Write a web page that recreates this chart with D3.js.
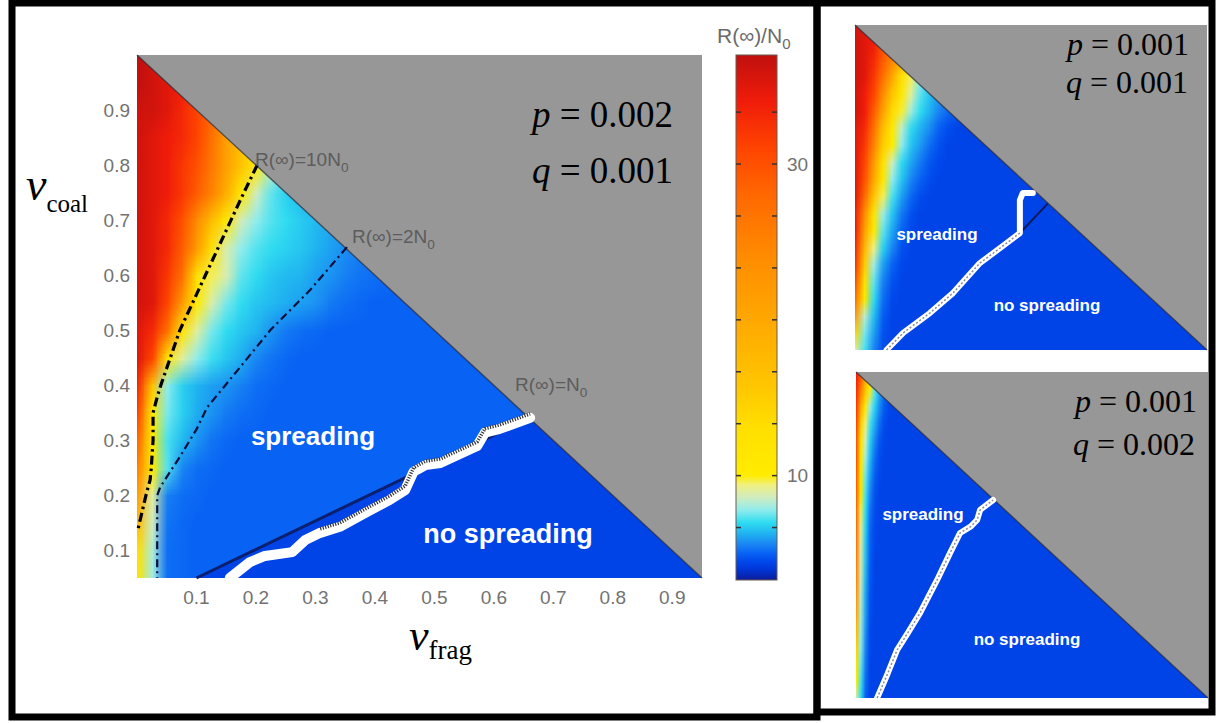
<!DOCTYPE html>
<html>
<head>
<meta charset="utf-8">
<script src="https://cdn.jsdelivr.net/npm/d3@7"></script>
<style>
body { margin: 0; background: #fff; }
svg { display: block; }
</style>
</head>
<body>
<svg id="chart" width="1222" height="723"></svg>
<script>
// axis ticks
const xTicks = [0.1, 0.2, 0.3, 0.4, 0.5, 0.6, 0.7, 0.8, 0.9];
const yTicks = [0.1, 0.2, 0.3, 0.4, 0.5, 0.6, 0.7, 0.8, 0.9];

// colour map R(inf)/N0 -> colour
const cmapValues = [3.3, 4.0, 4.5, 5.0, 5.6, 6.3, 7.0, 7.8, 8.6, 9.4, 10, 13, 16, 20, 24, 28, 31, 34, 37];
const cmapColors = ["#0c1c9c", "#0036d8", "#0048ec", "#0862f4", "#1a86f4", "#20b4f0", "#30dcf0", "#90ecec",
    "#cfecc0", "#f0f080", "#ffec00", "#ffe000", "#ffc400", "#ffa800", "#ff8c00", "#ff6800", "#ff4400", "#f01c0a", "#c0100e"];
const cbTicks = [6.667, 10, 13.333, 16.667, 20, 23.333, 26.667, 30, 33.333];
const cbLabels = [10, 30];

// rows of the value grids, top (y = 1) to bottom (y = 0.05)
const gridY = [1.0, 0.95, 0.9, 0.85, 0.8, 0.75, 0.7, 0.65, 0.6, 0.55, 0.5, 0.45, 0.4, 0.35, 0.3, 0.25, 0.2, 0.15, 0.1, 0.05];

// main panel, p = 0.002, q = 0.001
const mainGridX = [0, 0.025, 0.05, 0.075, 0.1, 0.125, 0.15, 0.175, 0.2, 0.225, 0.25, 0.275, 0.3, 0.325, 0.35, 0.375, 0.4, 0.425, 0.45];
const mainGrid = [
    [37, 36, 35, 34, 33, 31, 29, 26, 22, 18, 14, 11, 9, 8, 7, 6.5, 6, 5.8, 5.5],
    [37, 36, 35, 34, 32, 30, 27, 24, 20, 16, 12, 10, 8.5, 7.5, 7, 6.5, 6, 5.8, 5.5],
    [36, 36, 35, 33, 31, 28, 25, 21, 17, 13, 10.5, 9, 8, 7.2, 6.6, 6.2, 5.9, 5.6, 5.4],
    [36, 35, 34, 33, 31, 27, 21, 17, 13, 10, 9, 8, 7.5, 7, 6.5, 6.1, 5.8, 5.5, 5.3],
    [36, 35, 34, 32, 30, 26, 21, 16, 10.5, 8.5, 7.5, 7, 6.6, 6.3, 6, 5.8, 5.6, 5.4, 5.2],
    [36, 35, 34, 32, 29, 25, 19, 11, 8.6, 7.4, 6.8, 6.4, 6.1, 5.9, 5.7, 5.5, 5.4, 5.3, 5.2],
    [36, 35, 33, 30, 24, 17, 11, 8.6, 7.8, 7.3, 7, 6.7, 6.4, 6.2, 6, 5.8, 5.6, 5.4, 5.3],
    [36, 35, 33, 29, 22, 13, 8.8, 7.8, 7.3, 7, 6.8, 6.6, 6.3, 6, 5.7, 5.5, 5.3, 5.2, 5.1],
    [36, 35, 32, 27, 13, 9.6, 8.8, 7.4, 7, 6.6, 6.4, 6.3, 6, 5.8, 5.5, 5.3, 5.2, 5.1, 5.0],
    [36, 35, 31, 22, 10.5, 8.8, 7.6, 7, 6.6, 6.4, 6.2, 6, 5.8, 5.4, 5.2, 5.1, 5.0, 5.0, 5.0],
    [35, 33, 27, 12, 9, 7.6, 7, 6.6, 6.3, 5.8, 5.4, 5.2, 5.1, 5.0, 5.0, 5.0, 5.0, 5.0, 5.0],
    [35, 31, 12, 9, 7.8, 7.1, 6.6, 6.2, 5.6, 5.3, 5.1, 5.0, 5.0, 5.0, 5.0, 5.0, 5.0, 5.0, 5.0],
    [33, 16, 7.8, 6.8, 6.3, 6.0, 5.8, 5.5, 5.2, 5.1, 5.0, 5.0, 5.0, 5.0, 5.0, 5.0, 5.0, 5.0, 5.0],
    [31, 10.5, 7.6, 6.8, 6.2, 5.8, 5.4, 5.2, 5.1, 5.0, 5.0, 5.0, 5.0, 5.0, 5.0, 5.0, 5.0, 5.0, 5.0],
    [28, 10.8, 7.2, 6.4, 5.8, 5.3, 5.1, 5.0, 5.0, 5.0, 5.0, 5.0, 5.0, 5.0, 5.0, 5.0, 5.0, 5.0, 5.0],
    [25, 10.4, 7.3, 5.6, 5.2, 5.1, 5.0, 5.0, 5.0, 5.0, 5.0, 5.0, 5.0, 5.0, 5.0, 5.0, 5.0, 5.0, 5.0],
    [21, 9, 5.5, 5.2, 5.1, 5.0, 5.0, 5.0, 5.0, 5.0, 5.0, 5.0, 5.0, 5.0, 5.0, 5.0, 5.0, 5.0, 5.0],
    [17, 8.6, 5.3, 5.1, 5.0, 5.0, 5.0, 5.0, 5.0, 5.0, 5.0, 5.0, 5.0, 5.0, 5.0, 5.0, 5.0, 5.0, 5.0],
    [13, 8.2, 5.2, 5.1, 5.0, 5.0, 5.0, 5.0, 5.0, 5.0, 5.0, 5.0, 5.0, 5.0, 5.0, 5.0, 5.0, 5.0, 5.0],
    [12, 8, 5.2, 5.1, 5.0, 5.0, 5.0, 5.0, 5.0, 5.0, 5.0, 5.0, 5.0, 5.0, 5.0, 5.0, 5.0, 5.0, 5.0]
];
const mainSpreadValue = 5.0;
const mainNoSpreadValue = 4.4;
const contour10 = [[0.202, 0.80], [0.174, 0.737], [0.158, 0.70], [0.137, 0.651], [0.115, 0.60], [0.094, 0.551],
    [0.072, 0.50], [0.056, 0.45], [0.040, 0.40], [0.034, 0.379], [0.027, 0.35], [0.027, 0.30], [0.024, 0.25],
    [0.022, 0.228], [0.015, 0.20], [0.002, 0.14]];
const contour2 = [[0.353, 0.651], [0.291, 0.573], [0.224, 0.50], [0.156, 0.41], [0.118, 0.36], [0.10, 0.32],
    [0.072, 0.27], [0.039, 0.215], [0.034, 0.20], [0.034, 0.05]];
const contour1 = [[0.156, 0.05], [0.19, 0.079], [0.215, 0.09], [0.261, 0.097], [0.283, 0.119], [0.308, 0.132],
    [0.341, 0.143], [0.387, 0.170], [0.425, 0.192], [0.451, 0.210], [0.465, 0.243], [0.485, 0.255], [0.51, 0.259],
    [0.572, 0.290], [0.585, 0.314], [0.61, 0.321], [0.661, 0.341]];
const spreadEdge = [[0.10, 0.05], [0.661, 0.341]];

// top right panel, p = 0.001, q = 0.001
const topGridX = [0, 0.025, 0.05, 0.075, 0.1, 0.125, 0.15, 0.175, 0.2, 0.225, 0.25, 0.275, 0.3];
const topGrid = [
    [36, 35, 34, 31, 28, 23, 18, 13, 10, 8.4, 7.2, 6.4, 6],
    [36, 35, 34, 30, 27, 22, 17, 12, 9.5, 8, 7, 6.3, 5.8],
    [36, 35, 33, 29, 25, 19, 13, 9.8, 8.2, 7.2, 6.4, 5.8, 5.5],
    [36, 35, 32, 27, 20, 13, 9.6, 7.8, 6.8, 6.2, 5.6, 5.2, 5],
    [36, 34, 31, 24, 16, 11, 9, 7.4, 6.6, 5.9, 5.3, 5, 4.8],
    [36, 34, 29, 21, 13.5, 9.8, 8, 7, 6.3, 5.6, 5.1, 4.8, 4.6],
    [35, 33, 27, 17, 11, 8.4, 7, 6.3, 5.7, 5, 4.6, 4.4, 4.4],
    [35, 32, 25, 15, 10, 7.8, 6.6, 5.9, 5.2, 4.7, 4.4, 4.4, 4.4],
    [35, 31, 22, 12.5, 8.6, 7, 6.1, 5.4, 4.8, 4.5, 4.4, 4.4, 4.4],
    [35, 30, 20, 11, 7.8, 6.6, 5.6, 5, 4.6, 4.4, 4.4, 4.4, 4.4],
    [35, 28, 16, 9.6, 7.2, 6, 5.1, 4.6, 4.4, 4.4, 4.4, 4.4, 4.4],
    [34, 24, 12, 8, 6.6, 5.4, 4.7, 4.4, 4.4, 4.4, 4.4, 4.4, 4.4],
    [34, 21, 10.5, 7.4, 6.1, 5, 4.5, 4.4, 4.4, 4.4, 4.4, 4.4, 4.4],
    [33, 18, 9.4, 6.8, 5.6, 4.7, 4.4, 4.4, 4.4, 4.4, 4.4, 4.4, 4.4],
    [32, 15, 8, 6, 5, 4.5, 4.4, 4.4, 4.4, 4.4, 4.4, 4.4, 4.4],
    [30, 12.5, 7.4, 5.5, 4.7, 4.4, 4.4, 4.4, 4.4, 4.4, 4.4, 4.4, 4.4],
    [27, 10.5, 7, 5.2, 4.5, 4.4, 4.4, 4.4, 4.4, 4.4, 4.4, 4.4, 4.4],
    [22, 8.4, 6.5, 4.9, 4.4, 4.4, 4.4, 4.4, 4.4, 4.4, 4.4, 4.4, 4.4],
    [14, 7.6, 6, 4.7, 4.4, 4.4, 4.4, 4.4, 4.4, 4.4, 4.4, 4.4, 4.4],
    [9, 7.2, 5.6, 4.6, 4.4, 4.4, 4.4, 4.4, 4.4, 4.4, 4.4, 4.4, 4.4]
];
const topBaseValue = 4.4;
const topBoundary = [[0.085, 0.05], [0.13, 0.10], [0.202, 0.158], [0.265, 0.217], [0.337, 0.304], [0.41, 0.363],
    [0.445, 0.392], [0.445, 0.488], [0.453, 0.509], [0.48, 0.509]];
const topEdge = [[0.445, 0.392], [0.52, 0.478]];

// bottom right panel, p = 0.001, q = 0.002
const botGridX = [0, 0.0125, 0.025, 0.0375, 0.05, 0.0625, 0.075, 0.0875, 0.1];
const botGrid = [
    [34, 30, 20, 12, 8, 6.5, 5.5, 4.8, 4.4],
    [33, 26, 16, 10, 7.4, 6.2, 5.2, 4.6, 4.4],
    [32, 20, 11, 8, 6.8, 5.7, 4.9, 4.5, 4.4],
    [31, 15, 9.5, 7.2, 6.2, 5.2, 4.6, 4.4, 4.4],
    [30, 12, 8.6, 6.8, 5.6, 4.8, 4.5, 4.4, 4.4],
    [30, 11, 8, 6.4, 5.2, 4.6, 4.4, 4.4, 4.4],
    [29, 10.5, 7.5, 6, 4.9, 4.5, 4.4, 4.4, 4.4],
    [29, 10, 7.2, 5.6, 4.7, 4.4, 4.4, 4.4, 4.4],
    [28, 9.6, 7, 5.3, 4.6, 4.4, 4.4, 4.4, 4.4],
    [28, 9.2, 6.8, 5.1, 4.5, 4.4, 4.4, 4.4, 4.4],
    [27, 9, 6.6, 5, 4.5, 4.4, 4.4, 4.4, 4.4],
    [26, 8.8, 6.5, 4.9, 4.4, 4.4, 4.4, 4.4, 4.4],
    [25, 8.6, 6.3, 4.8, 4.4, 4.4, 4.4, 4.4, 4.4],
    [23, 8.4, 6.1, 4.7, 4.4, 4.4, 4.4, 4.4, 4.4],
    [21, 8.2, 6, 4.6, 4.4, 4.4, 4.4, 4.4, 4.4],
    [18, 8, 5.8, 4.5, 4.4, 4.4, 4.4, 4.4, 4.4],
    [15, 7.8, 5.6, 4.5, 4.4, 4.4, 4.4, 4.4, 4.4],
    [12, 7.5, 5.4, 4.4, 4.4, 4.4, 4.4, 4.4, 4.4],
    [10, 7.2, 5.2, 4.4, 4.4, 4.4, 4.4, 4.4, 4.4],
    [8.5, 7, 5, 4.4, 4.4, 4.4, 4.4, 4.4, 4.4]
];
const botBaseValue = 4.4;
const botBoundary = [[0.057, 0.05], [0.085, 0.12], [0.111, 0.19], [0.14, 0.24], [0.173, 0.298], [0.219, 0.394],
    [0.254, 0.473], [0.281, 0.531], [0.31, 0.55], [0.327, 0.569], [0.335, 0.598], [0.37, 0.627]];

const svg = d3.select("#chart");
const defs = svg.append("defs");

const color = d3.scaleLinear()
    .domain(cmapValues)
    .range(cmapColors)
    .interpolate(d3.interpolateRgb)
    .clamp(true);

const sans = "Liberation Sans, Arial, Helvetica, sans-serif";
const serif = "Liberation Serif, Times New Roman, serif";

// value grid -> small image, the browser smooths it when it is scaled up
function drawHeat(g, x, y, gx, grid, clipId) {
    const canvas = document.createElement("canvas");
    canvas.width = gx.length;
    canvas.height = gridY.length;
    const ctx = canvas.getContext("2d");
    grid.forEach((row, j) => row.forEach((v, i) => {
        ctx.fillStyle = color(v);
        ctx.fillRect(i, j, 1, 1);
    }));
    const dx = gx[1] - gx[0];
    const dy = gridY[0] - gridY[1];
    const x0 = x(gx[0] - dx / 2), x1 = x(gx[gx.length - 1] + dx / 2);
    const y0 = y(gridY[0] + dy / 2), y1 = y(gridY[gridY.length - 1] - dy / 2);
    g.append("image")
        .attr("href", canvas.toDataURL())
        .attr("x", x0).attr("y", y0)
        .attr("width", x1 - x0).attr("height", y1 - y0)
        .attr("preserveAspectRatio", "none")
        .attr("clip-path", "url(#" + clipId + ")");
}

function drawPanel(cfg) {
    const x = d3.scaleLinear().domain([0, 0.95]).range([cfg.left, cfg.right]);
    const y = d3.scaleLinear().domain([0.05, 1]).range([cfg.bottom, cfg.top]);
    const g = svg.append("g");

    defs.append("clipPath").attr("id", cfg.id)
        .append("rect")
        .attr("x", cfg.left).attr("y", cfg.top)
        .attr("width", cfg.right - cfg.left).attr("height", cfg.bottom - cfg.top);

    g.append("rect")
        .attr("x", cfg.left).attr("y", cfg.top)
        .attr("width", cfg.right - cfg.left).attr("height", cfg.bottom - cfg.top)
        .attr("fill", color(cfg.base));

    drawHeat(g, x, y, cfg.gridX, cfg.grid, cfg.id);

    const line = d3.line().x(d => x(d[0])).y(d => y(d[1]));

    if (cfg.noSpread !== undefined) {
        g.append("path")
            .attr("d", line([cfg.edge[0], cfg.edge[1], [0.95, 0.05]]) + "Z")
            .attr("fill", color(cfg.noSpread));
    }

    // region outside v_frag + v_coal <= 1
    g.append("path")
        .attr("d", line([[0, 1], [0.95, 1], [0.95, 0.05]]) + "Z")
        .attr("fill", "#979797");
    g.append("path")
        .attr("d", line([[0, 1], [0.95, 0.05]]))
        .attr("stroke", "#2a2a3a").attr("stroke-width", 1.4).attr("stroke-opacity", 0.7);

    return { g, x, y, line };
}

function pqText(g, xPos, yBase, letter, value, size) {
    const t = g.append("text")
        .attr("x", xPos).attr("y", yBase)
        .attr("font-family", serif).attr("font-size", size).attr("fill", "#000");
    t.append("tspan").attr("font-style", "italic").text(letter);
    t.append("tspan").text(" = " + value);
}

function whiteLabel(g, xPos, yBase, text, size) {
    g.append("text")
        .attr("x", xPos).attr("y", yBase)
        .attr("text-anchor", "middle")
        .attr("font-family", sans).attr("font-weight", "bold")
        .attr("font-size", size).attr("fill", "#fff")
        .text(text);
}

function rLabel(g, xPos, yBase, mainText, sub, size) {
    const t = g.append("text")
        .attr("x", xPos).attr("y", yBase)
        .attr("font-family", sans).attr("font-size", size).attr("fill", "#5c5c5c");
    t.append("tspan").text(mainText);
    t.append("tspan").attr("font-size", size * 0.72).attr("dy", size * 0.3).text(sub);
}

// ---------- main panel ----------
const mainPanel = drawPanel({
    id: "clipMain", left: 137, right: 702, top: 55, bottom: 578,
    gridX: mainGridX, grid: mainGrid, base: mainSpreadValue,
    noSpread: mainNoSpreadValue, edge: spreadEdge
});

mainPanel.g.append("path")
    .attr("d", mainPanel.line(spreadEdge))
    .attr("fill", "none").attr("stroke", "#0a1f6e").attr("stroke-width", 3);

mainPanel.g.append("path")
    .attr("d", mainPanel.line(contour10))
    .attr("fill", "none").attr("stroke", "#000").attr("stroke-width", 3.2)
    .attr("stroke-dasharray", "9,4,2.5,4");
mainPanel.g.append("path")
    .attr("d", mainPanel.line(contour2))
    .attr("fill", "none").attr("stroke", "#05103a").attr("stroke-width", 2.2)
    .attr("stroke-dasharray", "8,4,2,4");

mainPanel.g.append("path")
    .attr("d", mainPanel.line(contour1))
    .attr("fill", "none").attr("stroke", "#fff").attr("stroke-width", 10)
    .attr("stroke-linejoin", "round").attr("stroke-linecap", "round");
mainPanel.g.append("path")
    .attr("d", mainPanel.line(contour1.filter(d => d[0] >= 0.3)))
    .attr("transform", "translate(0,-4)")
    .attr("fill", "none").attr("stroke", "#333").attr("stroke-width", 3.5)
    .attr("stroke-dasharray", "1.2,1.4");

rLabel(mainPanel.g, 255, 166, "R(\u221e)=10N", "0", 19);
rLabel(mainPanel.g, 352, 243, "R(\u221e)=2N", "0", 19);
rLabel(mainPanel.g, 515, 391, "R(\u221e)=N", "0", 19);

whiteLabel(mainPanel.g, 313, 445, "spreading", 26);
whiteLabel(mainPanel.g, 508, 543, "no spreading", 27);

pqText(mainPanel.g, 532, 127, "p", "0.002", 37);
pqText(mainPanel.g, 532, 183, "q", "0.001", 37);

mainPanel.g.selectAll(".xt").data(xTicks).enter().append("text")
    .attr("x", d => mainPanel.x(d)).attr("y", 604)
    .attr("text-anchor", "middle")
    .attr("font-family", sans).attr("font-size", 19).attr("fill", "#727272")
    .text(d => d3.format(".1f")(d));
mainPanel.g.selectAll(".yt").data(yTicks).enter().append("text")
    .attr("x", 130).attr("y", d => mainPanel.y(d))
    .attr("dy", "0.35em")
    .attr("text-anchor", "end")
    .attr("font-family", sans).attr("font-size", 19).attr("fill", "#727272")
    .text(d => d3.format(".1f")(d));

// axis titles
const yTitle = svg.append("text").attr("x", 26).attr("y", 200)
    .attr("font-family", serif).attr("fill", "#000");
yTitle.append("tspan").attr("font-style", "italic").attr("font-size", 46).text("\u03bd");
yTitle.append("tspan").attr("font-size", 25).attr("dy", 12).text("coal");

const xTitle = svg.append("text").attr("x", 409).attr("y", 650)
    .attr("font-family", serif).attr("fill", "#000");
xTitle.append("tspan").attr("font-style", "italic").attr("font-size", 44).text("\u03bd");
xTitle.append("tspan").attr("font-size", 27).attr("dy", 9).text("frag");

// ---------- colour bar ----------
const cbLeft = 736, cbRight = 777;
const cbY = d3.scaleLinear().domain([3.3, 37]).range([580, 55]);
const grad = defs.append("linearGradient").attr("id", "cbGrad")
    .attr("x1", 0).attr("y1", 1).attr("x2", 0).attr("y2", 0);
grad.selectAll("stop").data(cmapValues).enter().append("stop")
    .attr("offset", d => (cbY(3.3) - cbY(d)) / (cbY(3.3) - cbY(37)))
    .attr("stop-color", d => color(d));
svg.append("rect")
    .attr("x", cbLeft).attr("y", cbY(37))
    .attr("width", cbRight - cbLeft).attr("height", cbY(3.3) - cbY(37))
    .attr("fill", "url(#cbGrad)")
    .attr("stroke", "#6a5a50").attr("stroke-width", 1);
svg.selectAll(".cbtl").data(cbTicks).enter().append("line")
    .attr("x1", cbLeft).attr("x2", cbLeft + 5)
    .attr("y1", d => cbY(d)).attr("y2", d => cbY(d))
    .attr("stroke", "#3a3030").attr("stroke-width", 1.5);
svg.selectAll(".cbtr").data(cbTicks).enter().append("line")
    .attr("x1", cbRight - 5).attr("x2", cbRight)
    .attr("y1", d => cbY(d)).attr("y2", d => cbY(d))
    .attr("stroke", "#3a3030").attr("stroke-width", 1.5);
svg.selectAll(".cbl").data(cbLabels).enter().append("text")
    .attr("x", 787).attr("y", d => cbY(d)).attr("dy", "0.35em")
    .attr("font-family", sans).attr("font-size", 19).attr("fill", "#727272")
    .text(d => d);
const cbTitle = svg.append("text").attr("x", 717).attr("y", 43)
    .attr("font-family", sans).attr("font-size", 21).attr("fill", "#6a6a6a");
cbTitle.append("tspan").text("R(\u221e)/N");
cbTitle.append("tspan").attr("font-size", 15).attr("dy", 6).text("0");

// ---------- top right panel ----------
const topPanel = drawPanel({
    id: "clipTop", left: 855, right: 1207, top: 25, bottom: 350,
    gridX: topGridX, grid: topGrid, base: topBaseValue
});
topPanel.g.append("path")
    .attr("d", topPanel.line(topEdge))
    .attr("fill", "none").attr("stroke", "#0a1a5a").attr("stroke-width", 2);
topPanel.g.append("path")
    .attr("d", topPanel.line(topBoundary))
    .attr("fill", "none").attr("stroke", "#fff").attr("stroke-width", 6)
    .attr("stroke-linejoin", "round").attr("stroke-linecap", "round");
topPanel.g.append("path")
    .attr("d", topPanel.line(topBoundary.slice(0, 7)))
    .attr("fill", "none").attr("stroke", "#8a8a9a").attr("stroke-width", 1.5)
    .attr("stroke-dasharray", "2,2");
whiteLabel(topPanel.g, 937, 240, "spreading", 17);
whiteLabel(topPanel.g, 1047, 311, "no spreading", 17);
pqText(topPanel.g, 1067, 55, "p", "0.001", 32);
pqText(topPanel.g, 1066, 93, "q", "0.001", 32);

// ---------- bottom right panel ----------
const botPanel = drawPanel({
    id: "clipBot", left: 856, right: 1208, top: 372, bottom: 698,
    gridX: botGridX, grid: botGrid, base: botBaseValue
});
botPanel.g.append("path")
    .attr("d", botPanel.line(botBoundary))
    .attr("fill", "none").attr("stroke", "#fff").attr("stroke-width", 6)
    .attr("stroke-linejoin", "round").attr("stroke-linecap", "round");
botPanel.g.append("path")
    .attr("d", botPanel.line(botBoundary))
    .attr("fill", "none").attr("stroke", "#8a8a9a").attr("stroke-width", 1.5)
    .attr("stroke-dasharray", "2,2");
whiteLabel(botPanel.g, 923, 520, "spreading", 17);
whiteLabel(botPanel.g, 1027, 645, "no spreading", 17);
pqText(botPanel.g, 1075, 412, "p", "0.001", 32);
pqText(botPanel.g, 1073, 455, "q", "0.002", 32);

// ---------- frames ----------
svg.append("rect").attr("x", 12).attr("y", 3).attr("width", 805).attr("height", 714)
    .attr("fill", "none").attr("stroke", "#000").attr("stroke-width", 7);
svg.append("rect").attr("x", 817).attr("y", 3).attr("width", 395).attr("height", 709)
    .attr("fill", "none").attr("stroke", "#000").attr("stroke-width", 7);
</script>
</body>
</html>
